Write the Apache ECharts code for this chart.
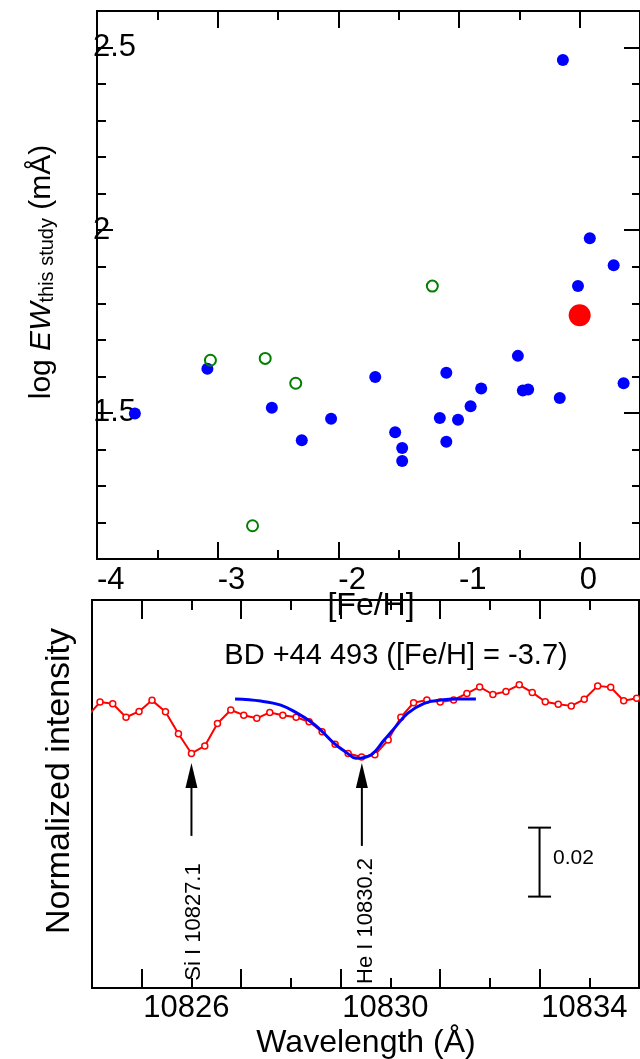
<!DOCTYPE html>
<html><head><meta charset="utf-8">
<script src="https://cdn.jsdelivr.net/npm/echarts@6/dist/echarts.min.js"></script>
<style>html,body{margin:0;padding:0;background:#fff}#c{width:640px;height:1059px}</style>
</head><body><div id="c"></div><script>
// ---- Top panel data ----
const feHBlue = [-3.686, -3.085, -2.551, -2.303, -2.060, -1.694, -1.529, -1.471, -1.471, -1.159, -1.105, -1.105, -1.008, -0.904, -0.816, -0.512, -0.471, -0.427, -0.165, -0.139, -0.014, 0.084, 0.282, 0.364];
const logEWBlue = [1.498, 1.621, 1.514, 1.425, 1.484, 1.598, 1.447, 1.404, 1.368, 1.486, 1.610, 1.421, 1.481, 1.518, 1.567, 1.656, 1.561, 1.564, 1.541, 2.466, 1.847, 1.978, 1.904, 1.581];
const feHGreen = [-3.060, -2.711, -2.606, -2.353, -1.221];
const logEWGreen = [1.644, 1.191, 1.649, 1.581, 1.847];
const feHRed = [0.0];
const logEWRed = [1.767];
const feHTickLabels = [-4, -3, -2, -1, 0];
const logEWTickLabels = [1.5, 2, 2.5];

// ---- Bottom panel data ----
const wave = [10823.899, 10824.161, 10824.417, 10824.684, 10824.946, 10825.207, 10825.477, 10825.738, 10826.000, 10826.268, 10826.523, 10826.791, 10827.052, 10827.314, 10827.575, 10827.837, 10828.105, 10828.366, 10828.628, 10828.889, 10829.151, 10829.421, 10829.688, 10829.956, 10830.211, 10830.467, 10830.734, 10831.002, 10831.272, 10831.539, 10831.795, 10832.062, 10832.324, 10832.592, 10832.853, 10833.115, 10833.376, 10833.638, 10833.899, 10834.169, 10834.431, 10834.692, 10834.954, 10835.215];
const flux = [0.9786, 0.9829, 0.9824, 0.9785, 0.9802, 0.9834, 0.9801, 0.9737, 0.9680, 0.9702, 0.9767, 0.9806, 0.9791, 0.9782, 0.9799, 0.9791, 0.9785, 0.9772, 0.9743, 0.9707, 0.9680, 0.9670, 0.9676, 0.9719, 0.9785, 0.9827, 0.9835, 0.9829, 0.9835, 0.9854, 0.9873, 0.9851, 0.9860, 0.9879, 0.9857, 0.9830, 0.9823, 0.9818, 0.9837, 0.9876, 0.9872, 0.9833, 0.9840, 0.9846];
const fitWave = [10826.877, 10827.394, 10827.797, 10828.133, 10828.400, 10828.601, 10828.869, 10829.139, 10829.306, 10829.608, 10829.875, 10830.077, 10830.346, 10830.680, 10831.016, 10831.352, 10831.720];
const fitFlux = [0.98377, 0.98319, 0.98203, 0.97962, 0.97719, 0.97478, 0.97093, 0.96803, 0.96658, 0.96754, 0.97188, 0.97528, 0.97962, 0.98252, 0.98348, 0.98377, 0.98377];
const waveLongTicks = [10825, 10827, 10829, 10831, 10833];
const waveShortTicks = [10826, 10828, 10830, 10832, 10834];
const waveTickLabels = [10826, 10830, 10834];
// line markers: wavelength position, arrow-head centre, shaft top, shaft bottom
const arrowWave = [10826.0, 10829.427];
const arrowHeadFlux = [0.9616, 0.9616];
const arrowShaftTop = [0.9580, 0.9580];
const arrowShaftBottom = [0.9441, 0.9412];
const lineLabels = ['Si I 10827.1', 'He I 10830.2'];
// scale bar
const scaleBarWave = [10833.0, 10833.0];
const scaleBarFlux = [0.9265, 0.9465];

const F = '"Liberation Sans", Arial, sans-serif';
const BL = '#000';
const lineS = {show: true, onZero: false, lineStyle: {color: BL, width: 2}};
const zip = (a, b) => a.map((v, i) => [v, b[i]]);

const xAxes = [
  {gridIndex: 0, type: 'value', position: 'bottom', min: -4, max: 0.5, interval: 1,
   axisLine: lineS, axisTick: {show: true, inside: true, length: 17, lineStyle: {color: BL, width: 2}},
   minorTick: {show: true, splitNumber: 2, length: 9, lineStyle: {color: BL, width: 2}},
   splitLine: {show: false}, minorSplitLine: {show: false},
   axisLabel: {show: true, customValues: feHTickLabels, align: 'left', margin: 6, fontSize: 31, fontFamily: F, color: BL, formatter: v => String(v)}},
  {gridIndex: 0, type: 'value', position: 'top', min: -4, max: 0.5, interval: 1,
   axisLine: lineS, axisTick: {show: true, inside: true, length: 17, lineStyle: {color: BL, width: 2}},
   minorTick: {show: true, splitNumber: 2, length: 9, lineStyle: {color: BL, width: 2}},
   splitLine: {show: false}, minorSplitLine: {show: false}, axisLabel: {show: false}},
  {gridIndex: 1, type: 'value', position: 'bottom', min: 10824, max: 10835,
   axisLine: lineS, axisTick: {show: true, inside: true, length: 19, customValues: waveLongTicks, lineStyle: {color: BL, width: 2}},
   splitLine: {show: false},
   axisLabel: {show: true, customValues: waveTickLabels, margin: 5, fontSize: 31, fontFamily: F, color: BL, padding: [0, 10, 0, 0], formatter: v => String(v)}},
  {gridIndex: 1, type: 'value', position: 'bottom', min: 10824, max: 10835,
   axisLine: lineS, axisTick: {show: true, inside: true, length: 10, customValues: waveShortTicks, lineStyle: {color: BL, width: 2}},
   splitLine: {show: false}, axisLabel: {show: false}},
  {gridIndex: 1, type: 'value', position: 'top', min: 10824, max: 10835,
   axisLine: lineS, axisTick: {show: true, inside: true, length: 19, customValues: waveLongTicks, lineStyle: {color: BL, width: 2}},
   splitLine: {show: false}, axisLabel: {show: false}},
  {gridIndex: 1, type: 'value', position: 'top', min: 10824, max: 10835,
   axisLine: lineS, axisTick: {show: true, inside: true, length: 10, customValues: waveShortTicks, lineStyle: {color: BL, width: 2}},
   splitLine: {show: false}, axisLabel: {show: false}}
];

const yAxes = [
  {gridIndex: 0, type: 'value', position: 'left', min: 1.1, max: 2.6, interval: 0.1,
   axisLine: lineS, axisTick: {show: true, inside: true, length: 9, lineStyle: {color: BL, width: 2}},
   splitLine: {show: false}, axisLabel: {show: false}},
  {gridIndex: 0, type: 'value', position: 'left', min: 1.1, max: 2.6,
   axisLine: lineS, axisTick: {show: true, inside: true, length: 16, customValues: logEWTickLabels, lineStyle: {color: BL, width: 2}},
   splitLine: {show: false},
   axisLabel: {show: true, customValues: logEWTickLabels, align: 'left', margin: 4, fontSize: 31, fontFamily: F, color: BL, formatter: v => String(v)}},
  {gridIndex: 0, type: 'value', position: 'right', min: 1.1, max: 2.6, interval: 0.1,
   axisLine: lineS, axisTick: {show: true, inside: true, length: 8, lineStyle: {color: BL, width: 2}},
   splitLine: {show: false}, axisLabel: {show: false}},
  {gridIndex: 0, type: 'value', position: 'right', min: 1.1, max: 2.6,
   axisLine: lineS, axisTick: {show: true, inside: true, length: 16, customValues: logEWTickLabels, lineStyle: {color: BL, width: 2}},
   splitLine: {show: false}, axisLabel: {show: false}},
  {gridIndex: 1, type: 'value', position: 'left', min: 0.9, max: 1.0125,
   axisLine: lineS, axisTick: {show: false}, splitLine: {show: false}, axisLabel: {show: false}},
  {gridIndex: 1, type: 'value', position: 'right', min: 0.9, max: 1.0125,
   axisLine: lineS, axisTick: {show: false}, splitLine: {show: false}, axisLabel: {show: false}}
];

const series = [
  {type: 'scatter', xAxisIndex: 0, yAxisIndex: 0, data: zip(feHBlue, logEWBlue), symbolSize: 12,
   itemStyle: {color: '#0000ff', opacity: 1}},
  {type: 'scatter', xAxisIndex: 0, yAxisIndex: 0, data: zip(feHGreen, logEWGreen), symbolSize: 11,
   itemStyle: {color: 'rgba(255,255,255,0)', borderColor: '#008000', borderWidth: 2, opacity: 1}},
  {type: 'scatter', xAxisIndex: 0, yAxisIndex: 0, data: zip(feHRed, logEWRed), symbolSize: 22,
   itemStyle: {color: '#ff0000', opacity: 1}},
  {type: 'line', xAxisIndex: 2, yAxisIndex: 4, data: zip(wave, flux), clip: true,
   symbol: 'circle', symbolSize: 6, showSymbol: true,
   itemStyle: {color: '#ffffff', borderColor: '#ff0000', borderWidth: 1.5},
   lineStyle: {color: '#ff0000', width: 2}, z: 3},
  {type: 'line', xAxisIndex: 2, yAxisIndex: 4, data: zip(fitWave, fitFlux), smooth: 0.4,
   symbol: 'none', lineStyle: {color: '#0000ff', width: 3}, z: 4}
];
arrowWave.forEach((w, i) => {
  series.push({type: 'line', xAxisIndex: 2, yAxisIndex: 4, symbol: 'none',
    data: [[w, arrowShaftBottom[i]], [w, arrowShaftTop[i]]], lineStyle: {color: BL, width: 2}, z: 5});
});
series.push({type: 'scatter', xAxisIndex: 2, yAxisIndex: 4, symbol: 'triangle', symbolSize: [12, 25],
  data: zip(arrowWave, arrowHeadFlux), itemStyle: {color: BL, opacity: 1}, z: 5});
series.push({type: 'line', xAxisIndex: 2, yAxisIndex: 4, data: zip(scaleBarWave, scaleBarFlux),
  symbol: 'rect', symbolSize: [23, 2], showSymbol: true, itemStyle: {color: BL}, lineStyle: {color: BL, width: 2}, z: 5});

const txt = (x, y, text, size, rot, extra) => ({type: 'text', x: x, y: y, rotation: rot || 0, z: 10,
  style: Object.assign({text: text, fontSize: size, fontFamily: F, fill: BL, align: 'center', verticalAlign: 'middle'}, extra || {})});

const chart = echarts.init(document.getElementById('c'), null, {renderer: 'canvas'});
chart.setOption({
  animation: false,
  backgroundColor: '#fff',
  grid: [
    {left: 97, top: 11, width: 544.5, height: 548},
    {left: 92, top: 600, width: 547, height: 388}
  ],
  xAxis: xAxes,
  yAxis: yAxes,
  series: series,
  graphic: [
    txt(371, 606, '[Fe/H]', 32),
    {type: 'text', x: 38, y: 272, rotation: Math.PI / 2, z: 10,
     style: {text: '{n|log }{i|EW}{s|this study}{n| (mÅ)}', fill: BL, align: 'center', verticalAlign: 'middle',
       rich: {
         n: {fontSize: 30, fontFamily: F, lineHeight: 38, verticalAlign: 'bottom'},
         i: {fontSize: 30, fontFamily: F, fontStyle: 'italic', lineHeight: 38, verticalAlign: 'bottom'},
         s: {fontSize: 20, fontFamily: F, lineHeight: 20, padding: [18, 0, 0, 0], verticalAlign: 'bottom'}
       }}},
    txt(60, 781, 'Normalized intensity', 34, Math.PI / 2),
    txt(366, 1043, 'Wavelength (Å)', 32),
    txt(396, 656, 'BD +44 493 ([Fe/H] = -3.7)', 29),
    txt(194, 922, lineLabels[0], 22, Math.PI / 2),
    txt(366, 921, lineLabels[1], 22, Math.PI / 2),
    txt(553, 858, '0.02', 21, 0, {align: 'left'})
  ]
});
</script></body></html>
